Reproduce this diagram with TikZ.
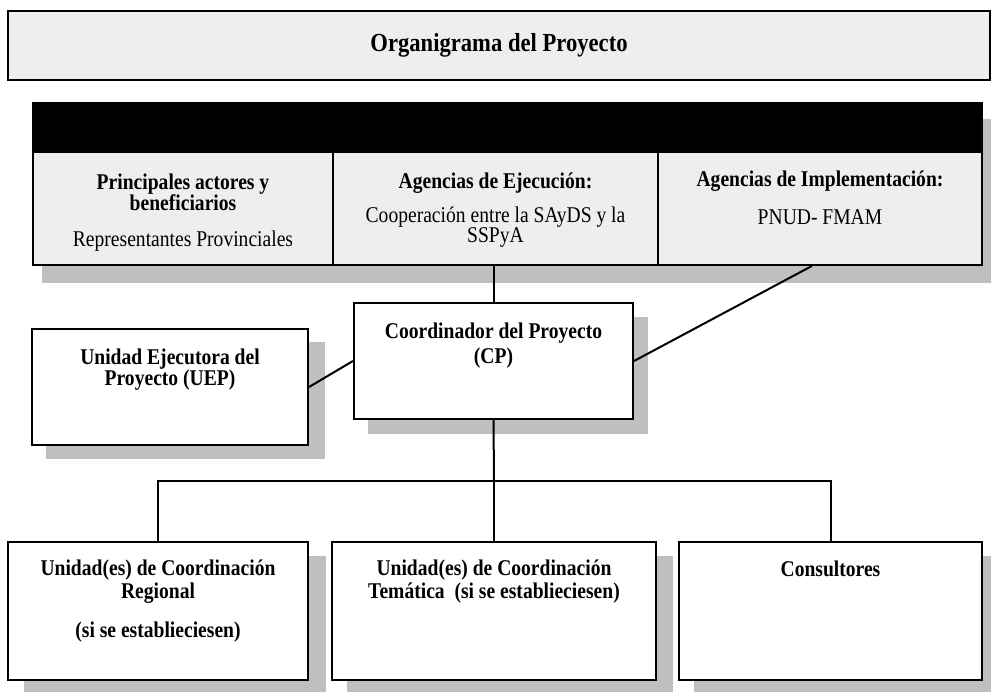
\documentclass[tikz,border=0pt]{standalone}
\usepackage{fontspec}
\setmainfont{Liberation Serif}[FakeStretch=0.87]
\usetikzlibrary{calc,backgrounds}
\begin{document}
\begin{tikzpicture}[x=1pt,y=-1pt,
  frame/.style={draw=black, line width=2.1pt, fill=white, inner sep=0pt},
  cell/.style={draw=black, line width=1.8pt, fill=gray!13, inner sep=0pt},
  band/.style={draw=black, line width=1.8pt, fill=black, inner sep=0pt},
  shade/.style={fill=gray!50, draw=none},
  link/.style={draw=black, line width=2pt},
  bt/.style={font=\fontsize{22.5}{24}\selectfont\bfseries, align=center, inner sep=0pt},
  rt/.style={font=\fontsize{22.5}{19}\selectfont, align=center, inner sep=0pt}]
\useasboundingbox (0,0) rectangle (991,692);

% title
\node[cell, line width=2.2pt, minimum width=982pt, minimum height=69pt] (title) at (499,45.5) {};
\node[font=\fontsize{26}{28}\selectfont\bfseries, inner sep=0pt] (titletext) at (title.center) {Organigrama del Proyecto};

% header band and cells
\node[band, minimum width=949pt, minimum height=49pt] (hdr) at (507.5,127.5) {};
\node[cell, minimum width=300pt, minimum height=113pt] (c1) at (183,208.5) {};
\node[cell, minimum width=325pt, minimum height=113pt] (c2) at (495.5,208.5) {};
\node[cell, minimum width=324pt, minimum height=113pt] (c3) at (820,208.5) {};

\node[bt, font=\fontsize{22.5}{21}\selectfont\bfseries] (c1a) at (183,192) {Principales actores y\\beneficiarios};
\node[rt] (c1b) at (183,241) {Representantes Provinciales};
\node[bt] (c2a) at (495.5,183) {Agencias de Ejecución:};
\node[rt] (c2b) at (495.5,227) {Cooperación entre la SAyDS y la\\SSPyA};
\node[bt] (c3a) at (820,181) {Agencias de Implementación:};
\node[rt] (c3b) at (820,217) {PNUD- FMAM};

% middle boxes
\node[frame, minimum width=279pt, minimum height=116pt] (cp) at (493.5,361) {};
\node[bt, font=\fontsize{22.5}{25}\selectfont\bfseries] (cpt) at (493.5,346) {Coordinador del Proyecto\\(CP)};
\node[frame, minimum width=276pt, minimum height=116pt] (uep) at (170,387) {};
\node[bt, font=\fontsize{22.5}{21}\selectfont\bfseries] (uept) at (170,370) {Unidad Ejecutora del\\Proyecto (UEP)};

% bottom boxes
\node[frame, minimum width=300pt, minimum height=138pt] (b1) at (158,611) {};
\node[bt, font=\fontsize{22.5}{23}\selectfont\bfseries] (b1a) at (158,581.5) {Unidad(es) de Coordinación\\Regional};
\node[bt] (b1b) at (158,632) {(si se establieciesen)};
\node[frame, minimum width=324pt, minimum height=138pt] (b2) at (494,611) {};
\node[bt, font=\fontsize{22.5}{23}\selectfont\bfseries] (b2a) at (494,581.5) {Unidad(es) de Coordinación\\Temática\ \ (si se establieciesen)};
\node[frame, minimum width=303pt, minimum height=138pt] (b3) at (830.5,611) {};
\node[bt] (b3a) at (830.5,569) {Consultores};

% shadows
\begin{scope}[on background layer]
  \fill[shade] ($(hdr.north west)+(10,17)$) rectangle ($(c3.south east)+(9,17)$);
  \fill[shade] ($(uep.south west)+(15,13)$) rectangle ($(uep.north east)+(16,14)$);
  \fill[shade] ($(cp.south west)+(15,14)$) rectangle ($(cp.north east)+(14,15)$);
  \fill[shade] ($(b1.south west)+(17,14)$) rectangle ($(b1.north east)+(17,15)$);
  \fill[shade] ($(b2.south west)+(16,14)$) rectangle ($(b2.north east)+(16,15)$);
  \fill[shade] ($(b3.south west)+(16,14)$) rectangle ($(b3.north east)+(12,15)$);
\end{scope}

% connectors
\coordinate (bus) at (494,481);
\draw[link] (cp.north |- c2.south) -- (cp.north);
\draw[link] (uep.east) -- (cp.west);
\draw[link] ([xshift=-8pt]c3.south) -- (cp.east);
\draw[link] (cp.south) -- (bus);
\draw[link] (b1.north) |- (bus) -| (b3.north);
\draw[link] (b2.north |- bus) -- (b2.north);
\end{tikzpicture}
\end{document}
